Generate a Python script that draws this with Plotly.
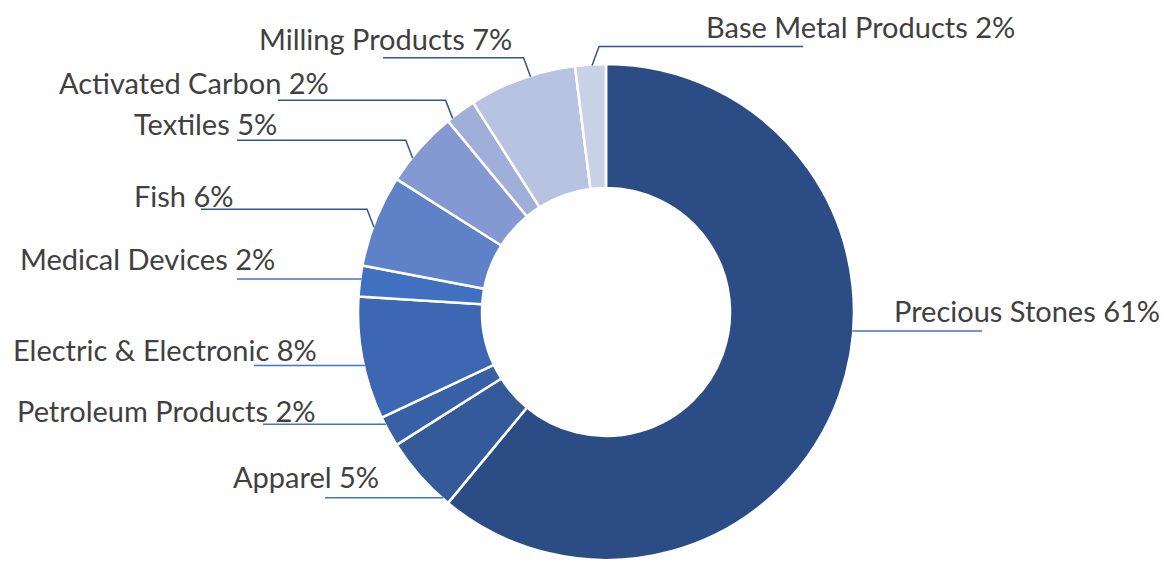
import math
import plotly.graph_objects as go

# ---- data ----
categories = ["Precious Stones", "Apparel", "Petroleum Products", "Electric & Electronic",
              "Medical Devices", "Fish", "Textiles", "Activated Carbon",
              "Milling Products", "Base Metal Products"]
values = [61, 5, 2, 8, 2, 6, 5, 2, 7, 2]

# ---- style ----
colors = ["#2C4C85", "#345A99", "#3760A6", "#3D67B2", "#4170C1",
          "#5F81C7", "#8499D2", "#A0AFDA", "#B7C3E1", "#CAD2E8"]

W, H = 1164, 561
CX, CY, R = 606, 312, 248   # pie centre / radius in px
HOLE = 0.5

# label layout (px): text anchor x, text centre y, xanchor, leader end x,
# attach fraction within slice, rise of elbow, leader colour
DARK, LIGHT = "#2F5597", "#4472C4"
label_layout = {
    "Precious Stones":       dict(tx=892, ty=310, xa="left",  ex=982, frac=0.43, rise=0,  col=LIGHT),
    "Apparel":               dict(tx=381, ty=476, xa="right", ex=325, frac=0.09, rise=0,  col=LIGHT),
    "Petroleum Products":    dict(tx=318, ty=410, xa="right", ex=263, frac=0.75, rise=0,  col=LIGHT),
    "Electric & Electronic": dict(tx=319, ty=349, xa="right", ex=254, frac=0.44, rise=0,  col=LIGHT),
    "Medical Devices":       dict(tx=277, ty=258, xa="right", ex=237, frac=0.57, rise=0,  col=LIGHT),
    "Fish":                  dict(tx=236, ty=195, xa="right", ex=201, frac=0.43, rise=18, col=DARK),
    "Textiles":              dict(tx=279, ty=123, xa="right", ex=237, frac=0.34, rise=18, col=DARK),
    "Activated Carbon":      dict(tx=331, ty=82,  xa="right", ex=278, frac=0.17, rise=18, col=DARK),
    "Milling Products":      dict(tx=514, ty=38,  xa="right", ex=383, frac=0.58, rise=19, col=DARK),
    "Base Metal Products":   dict(tx=704, ty=26,  xa="left",  ex=803, frac=0.55, rise=19, col=DARK),
}

def px(x):
    return x / W

def py(y):
    return 1 - y / H

fig = go.Figure(go.Pie(
    labels=categories,
    values=values,
    sort=False,
    direction="clockwise",
    rotation=0,
    hole=HOLE,
    marker=dict(colors=colors, line=dict(color="white", width=2.5)),
    textinfo="none",
    hoverinfo="label+percent",
    showlegend=False,
    domain=dict(x=[px(CX - R), px(CX + R)], y=[py(CY + R), py(CY - R)]),
))

total = sum(values)
cum = 0
shapes, annotations = [], []
for cat, v in zip(categories, values):
    L = label_layout[cat]
    ang = math.radians((cum + L["frac"] * v) / total * 360)
    cum += v
    ax = CX + (R - 1) * math.sin(ang)
    ay = CY - (R - 1) * math.cos(ang)
    pct = round(v / total * 100)
    if L["rise"]:
        side = -1 if L["ex"] < ax else 1
        elx, ely = ax + side * 7, ay - L["rise"]
        path = f"M {px(ax)} {py(ay)} L {px(elx)} {py(ely)} L {px(L['ex'])} {py(ely)}"
    else:
        path = f"M {px(ax)} {py(ay)} L {px(L['ex'])} {py(ay)}"
    shapes.append(dict(type="path", xref="paper", yref="paper", path=path,
                       line=dict(color=L["col"], width=1.5)))
    annotations.append(dict(
        x=px(L["tx"]), y=py(L["ty"]), xref="paper", yref="paper",
        xanchor=L["xa"], yanchor="middle", showarrow=False,
        text=f"{cat} {pct}%",
        font=dict(family="Lato, Open Sans, sans-serif", size=29, color="#404040"),
    ))

fig.update_layout(
    width=W, height=H,
    margin=dict(l=0, r=0, t=0, b=0),
    paper_bgcolor="white", plot_bgcolor="white",
    shapes=shapes, annotations=annotations,
)

fig.write_html("out.html",
               config={"displayModeBar": False},
               post_script="document.body.style.margin='0px';document.body.style.overflow='hidden';")
